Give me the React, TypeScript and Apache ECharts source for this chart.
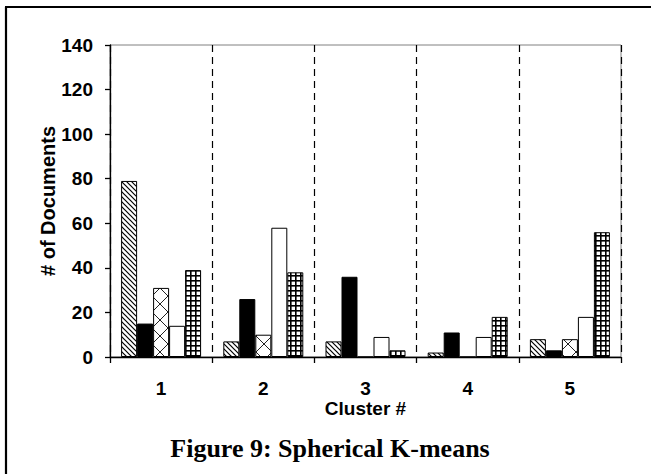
import React, { useEffect, useRef } from "react";
import * as echarts from "echarts";

const categories = ["1", "2", "3", "4", "5"];
const seriesHatch = [79, 7, 7, 2, 8];
const seriesSolid = [15, 26, 36, 11, 3];
const seriesCross = [31, 10, 0, 0, 8];
const seriesWhite = [14, 58, 9, 9, 18];
const seriesGrid = [39, 38, 3, 18, 56];
const yMin = 0;
const yMax = 140;
const yStep = 20;
const xAxisTitle = "Cluster #";
const yAxisTitle = "# of Documents";
const figureTitle = "Figure 9: Spherical K-means";

function tile(w: number, h: number, draw: (c: CanvasRenderingContext2D) => void) {
  const cv = document.createElement("canvas");
  cv.width = w;
  cv.height = h;
  const ctx = cv.getContext("2d")!;
  ctx.fillStyle = "#ffffff";
  ctx.fillRect(0, 0, w, h);
  draw(ctx);
  return { image: cv, repeat: "repeat", imageWidth: w, imageHeight: h } as any;
}

export default function App() {
  const ref = useRef<HTMLDivElement>(null);
  useEffect(() => {
    if (!ref.current) return;
    const chart = echarts.init(ref.current, null, { renderer: "svg" });

    const hatch = tile(5, 5, (c) => {
      c.strokeStyle = "#000";
      c.lineWidth = 1.2;
      c.beginPath();
      c.moveTo(-1, -1); c.lineTo(6, 6);
      c.moveTo(-1, 4); c.lineTo(1, 6);
      c.moveTo(4, -1); c.lineTo(6, 1);
      c.stroke();
    });
    const cross = tile(16, 16, (c) => {
      c.strokeStyle = "#222";
      c.lineWidth = 1;
      c.beginPath();
      c.moveTo(0, 0); c.lineTo(16, 16);
      c.moveTo(16, 0); c.lineTo(0, 16);
      c.stroke();
    });
    const grid = tile(5, 5, (c) => {
      c.fillStyle = "#000";
      c.fillRect(0, 0, 5, 1.6);
      c.fillRect(0, 0, 1.6, 5);
    });

    const fills = [hatch, "#000000", cross, "#ffffff", grid];
    const datasets = [seriesHatch, seriesSolid, seriesCross, seriesWhite, seriesGrid];
    const sans = "'Liberation Sans', Arial, sans-serif";

    chart.setOption({
      animation: false,
      backgroundColor: "#ffffff",
      grid: {
        left: 110,
        top: 45,
        width: 511,
        height: 312,
        show: true,
        borderColor: "#808080",
        borderWidth: 1,
        backgroundColor: "transparent",
      },
      xAxis: {
        type: "category",
        data: categories,
        boundaryGap: true,
        name: xAxisTitle,
        nameLocation: "middle",
        nameGap: 42,
        nameMoveOverlap: false,
        nameTextStyle: { fontFamily: sans, fontWeight: "bold", fontSize: 19, color: "#000" },
        axisLine: { lineStyle: { color: "#000", width: 1.3 } },
        axisTick: { show: true, length: 6, lineStyle: { color: "#000", width: 1.3 } },
        axisLabel: { fontFamily: sans, fontWeight: "bold", fontSize: 19, color: "#000", margin: 22 },
        splitLine: { show: true, lineStyle: { color: "#000", type: [7, 5], width: 1.2 } },
      },
      yAxis: {
        type: "value",
        min: yMin,
        max: yMax,
        interval: yStep,
        name: yAxisTitle,
        nameLocation: "middle",
        nameGap: 52,
        nameMoveOverlap: false,
        nameTextStyle: { fontFamily: sans, fontWeight: "bold", fontSize: 20, color: "#000" },
        axisLine: { show: true, lineStyle: { color: "#000", width: 1.3 } },
        axisTick: { show: true, length: 5, lineStyle: { color: "#000", width: 1.3 } },
        axisLabel: { fontFamily: sans, fontWeight: "bold", fontSize: 19, color: "#000", margin: 17 },
        splitLine: { show: false },
      },
      series: datasets.map((d, i) => ({
        type: "bar",
        data: d,
        barWidth: 16,
        barGap: "0%",
        itemStyle: { color: fills[i], borderColor: "#000", borderWidth: 1 },
      })),
      graphic: [
        {
          type: "line",
          shape: { x1: 6, y1: 7, x2: 6, y2: 474 },
          style: { stroke: "#000", lineWidth: 2.2 },
        },
        {
          type: "line",
          shape: { x1: 5, y1: 7, x2: 651, y2: 7 },
          style: { stroke: "#000", lineWidth: 2.2 },
        },
        {
          type: "text",
          x: 330,
          y: 448,
          style: {
            text: figureTitle,
            fontFamily: "'Liberation Serif', 'Times New Roman', serif",
            fontWeight: "bold",
            fontSize: 26,
            fill: "#000",
            textAlign: "center",
            textVerticalAlign: "middle",
          },
        },
      ],
    });
    return () => chart.dispose();
  }, []);
  return (
    <div
      ref={ref}
      style={{ position: "fixed", left: 0, top: 0, width: 651, height: 474 }}
    />
  );
}
